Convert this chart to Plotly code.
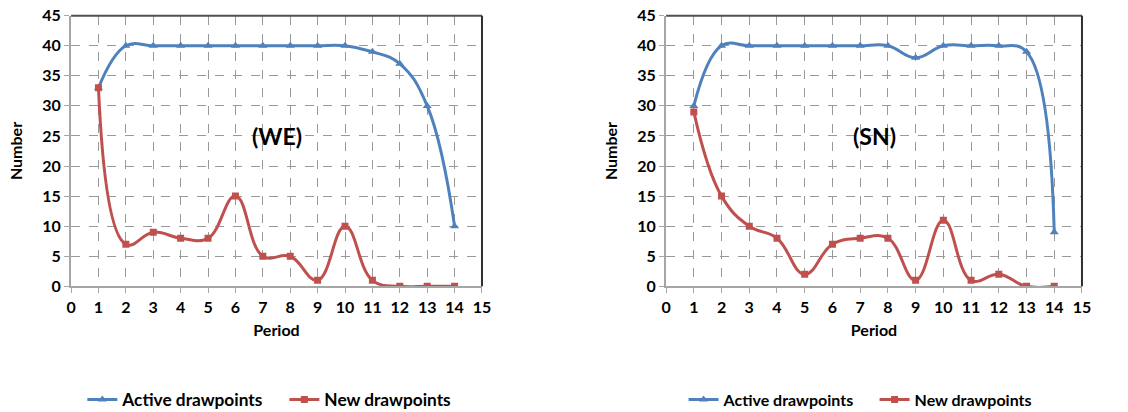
import plotly.graph_objects as go

periods = list(range(1, 15))
we_active = [33, 40, 40, 40, 40, 40, 40, 40, 40, 40, 39, 37, 30, 10]
we_new = [33, 7, 9, 8, 8, 15, 5, 5, 1, 10, 1, 0, 0, 0]
sn_active = [30, 40, 40, 40, 40, 40, 40, 40, 38, 40, 40, 40, 39, 9]
sn_new = [29, 15, 10, 8, 2, 7, 8, 8, 1, 11, 1, 2, 0, 0]
x_ticks = list(range(0, 16))
y_ticks = list(range(0, 50, 5))
panel_labels = ["(WE)", "(SN)"]

BLUE = "#4F81BD"
RED = "#C0504D"
FONT = "Lato"

fig = go.Figure()

def add_series(xa, ya, active, new, legend):
    fig.add_trace(go.Scatter(
        x=periods, y=active, mode="lines+markers", name="Active drawpoints",
        line=dict(color=BLUE, width=3, shape="spline", smoothing=1.2),
        marker=dict(symbol="triangle-up", size=8, color=BLUE),
        xaxis=xa, yaxis=ya, legend=legend))
    fig.add_trace(go.Scatter(
        x=periods, y=new, mode="lines+markers", name="New drawpoints",
        line=dict(color=RED, width=3, shape="spline", smoothing=1.2),
        marker=dict(symbol="square", size=7, color=RED),
        xaxis=xa, yaxis=ya, legend=legend))

add_series("x", "y", we_active, we_new, "legend")
add_series("x2", "y2", sn_active, sn_new, "legend2")

axis_font = dict(family=FONT, size=16, color="black", weight="bold")
title_font = dict(family=FONT, size=16, color="black", weight="bold")
common_x = dict(range=[0, 15], tickvals=x_ticks, showgrid=True, gridcolor="#999999",
                griddash="dash", gridwidth=1, showline=True, linecolor="#A6A6A6",
                linewidth=2, ticks="outside", ticklen=5, tickcolor="#A6A6A6",
                tickfont=axis_font, zeroline=False, automargin=False,
                title=dict(text="Period", font=title_font, standoff=10))
common_y = dict(range=[0, 45], tickvals=y_ticks, showgrid=True, gridcolor="#999999",
                griddash="dash", gridwidth=1, showline=True, linecolor="#A6A6A6",
                linewidth=2, ticks="outside", ticklen=5, tickcolor="#A6A6A6",
                tickfont=axis_font, zeroline=False, automargin=False,
                title=dict(text="Number", font=title_font, standoff=16))

y_dom = [0.305, 0.962]
fig.update_layout(
    width=1128, height=412, margin=dict(l=0, r=0, t=0, b=0, autoexpand=False),
    paper_bgcolor="white", plot_bgcolor="white",
    font=dict(family=FONT, size=14, color="black"),
    xaxis=dict(domain=[0.063, 0.4273], anchor="y", **common_x),
    yaxis=dict(domain=y_dom, anchor="x", **common_y),
    xaxis2=dict(domain=[0.5905, 0.9592], anchor="y2", **common_x),
    yaxis2=dict(domain=y_dom, anchor="x2", **common_y),
    legend=dict(orientation="h", x=0.073, y=0.03, xanchor="left", yanchor="middle",
                font=dict(family=FONT, size=17.3, color="black", weight="bold"),
                itemwidth=30, entrywidth=157, entrywidthmode="pixels"),
    legend2=dict(orientation="h", x=0.606, y=0.03, xanchor="left", yanchor="middle",
                 font=dict(family=FONT, size=16, color="black", weight="bold"),
                 itemwidth=30, entrywidth=146, entrywidthmode="pixels"),
    showlegend=True,
)

for i, (xa, ya) in enumerate([("x", "y"), ("x2", "y2")]):
    fig.add_annotation(x=7.5, y=25, xref=xa, yref=ya, text=panel_labels[i],
                       showarrow=False, font=dict(family=FONT, size=23, color="black", weight="bold"))
    # top and right borders
    fig.add_shape(type="line", xref=xa + " domain", yref=ya + " domain", x0=0, x1=1, y0=1, y1=1,
                  line=dict(color="#505050", width=2))
    fig.add_shape(type="line", xref=xa + " domain", yref=ya + " domain", x0=1, x1=1, y0=0, y1=1,
                  line=dict(color="#303030", width=2))

fig.write_html("out.html")
